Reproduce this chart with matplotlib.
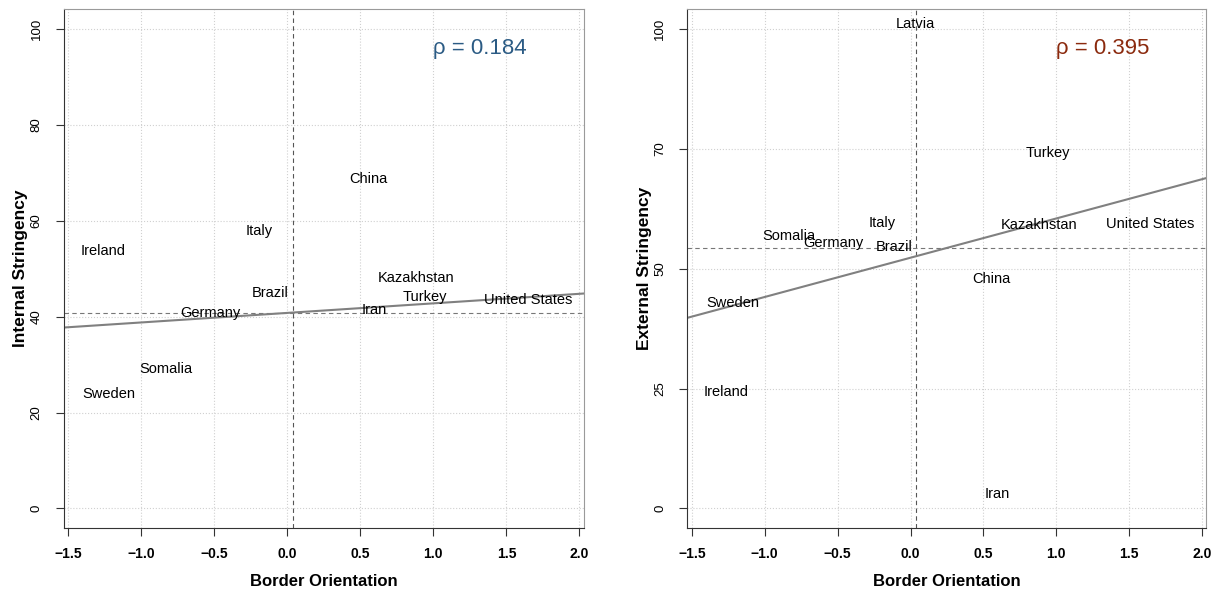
import numpy as np
import matplotlib
matplotlib.use("Agg")
from matplotlib import pyplot as plt

plt.rcParams['font.family'] = ['Liberation Sans', 'DejaVu Sans']

# border orientation per country (shared x)
countries = ['Ireland', 'Italy', 'China', 'Kazakhstan', 'Brazil', 'Turkey',
             'United States', 'Iran', 'Germany', 'Somalia', 'Sweden', 'Latvia']
border = [-1.262, -0.195, 0.556, 0.879, -0.115, 0.945,
          1.647, 0.597, -0.530, -0.832, -1.221, 0.031]

# internal stringency (Latvia not on this panel)
internal = [53.6, 57.8, 68.75, 48.1, 44.8, 44.1,
            43.5, 41.3, 40.75, 29.0, 23.8, np.nan]
# external stringency
external = [24.3, 59.4, 47.8, 59.0, 54.5, 74.0,
            59.2, 3.0, 55.3, 56.7, 42.9, 100.9]

# fitted lines (intercept, slope), mean lines, correlations
fit_int = (40.75, 1.99)
fit_ext = (52.25, 8.18)
mean_x = 0.04
mean_int = 40.8
mean_ext = 54.2
rho_int = 0.184
rho_ext = 0.395

x_ticks = [-1.5, -1.0, -0.5, 0.0, 0.5, 1.0, 1.5, 2.0]
x_labels = ['\u22121.5', '\u22121.0', '\u22120.5', '0.0', '0.5', '1.0', '1.5', '2.0']
y_ticks_int = [0, 20, 40, 60, 80, 100]
y_labels_int = ['0', '20', '40', '60', '80', '100']
y_ticks_ext = [0, 25, 50, 75, 100]
y_labels_ext = ['0', '25', '50', '70', '100']

fig = plt.figure(figsize=(12.15, 5.9), dpi=100)
ax1 = fig.add_axes([0.0523, 0.1056, 0.4282, 0.8786])
ax2 = fig.add_axes([0.5656, 0.1056, 0.4274, 0.8786])


def panel(ax, yvals, fit, mean_y, rho, rho_col, yticks, ylabels, ylabel):
    ax.set_xlim(-1.532, 2.03)
    ax.set_ylim(-4, 104)
    ax.set_xticks(x_ticks)
    ax.set_xticklabels(x_labels, fontsize=10, fontweight='bold')
    ax.set_yticks(yticks)
    ax.set_yticklabels(ylabels, fontsize=9.5, rotation=90, va='center')
    ax.tick_params(axis='x', length=6, width=0.8, pad=8, color='#333333')
    ax.tick_params(axis='y', length=6, width=0.8, pad=9, color='#333333')
    ax.grid(True, color='#d0d0d0', linestyle=':', linewidth=0.8)
    for s in ['left', 'bottom']:
        ax.spines[s].set_color('#333333')
    for s in ['top', 'right']:
        ax.spines[s].set_color('#9a9a9a')
    ax.axvline(mean_x, color='#555555', linestyle=(0, (4, 3)), linewidth=0.8)
    ax.axhline(mean_y, color='#777777', linestyle=(0, (4, 3)), linewidth=0.8)
    ax.axline((0, fit[0]), slope=fit[1], color='#808080', linewidth=1.5)
    for name, x, y in zip(countries, border, yvals):
        if np.isnan(y):
            continue
        ax.text(x, y, name, ha='center', va='center', fontsize=10.5, color='black')
    ax.text(0.8, 0.925, '\u03c1 = %.3f' % rho, transform=ax.transAxes,
            ha='center', va='center', fontsize=16, color=rho_col)
    ax.set_xlabel('Border Orientation', fontsize=12, fontweight='bold', labelpad=9)
    ax.set_ylabel(ylabel, fontsize=12.5, fontweight='bold', labelpad=2)


panel(ax1, internal, fit_int, mean_int, rho_int, '#2b5b84',
      y_ticks_int, y_labels_int, 'Internal Stringency')
panel(ax2, external, fit_ext, mean_ext, rho_ext, '#8b2a0e',
      y_ticks_ext, y_labels_ext, 'External Stringency')

fig.savefig('out.png', dpi=100)
